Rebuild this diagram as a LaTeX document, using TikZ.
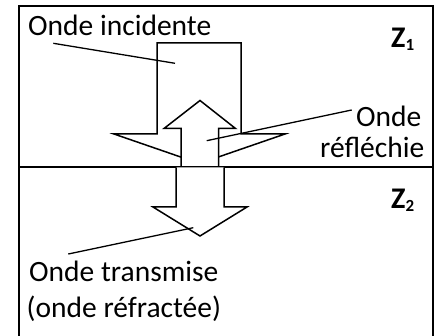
\documentclass[tikz,border=0pt]{standalone}
\usepackage{fontspec}
\setmainfont{Carlito}
\begin{document}
\begin{tikzpicture}[x=1pt,y=-1pt,
  lbl/.style={inner sep=0pt,anchor=base west,font=\fontsize{29.5}{34}\selectfont},
  zlbl/.style={inner sep=0pt,anchor=base west,font=\fontsize{30}{34}\selectfont\bfseries},
  arrowshape/.style={draw=black,fill=white,line width=1.5pt,line join=miter},
  leader/.style={draw=black,line width=1.3pt},
  frame/.style={draw=black,line width=2pt}]
\useasboundingbox (0,0) rectangle (441,336);
% frame
\draw[frame] (18.5,340) -- (18.5,6) -- (433,6) -- (433,340);
% incident arrow
\draw[arrowshape] (157,43) -- (241,43) -- (241,134) -- (285,134) -- (199.5,163.5)
  -- (114,134) -- (157,134) -- cycle;
% reflected arrow
\draw[arrowshape] (181,167.5) -- (181,128.5) -- (164,128.5) -- (200,100.5)
  -- (235.5,128.5) -- (218.5,128.5) -- (218.5,167.5);
% interface
\draw[frame] (18.5,167.5) -- (433,167.5);
% transmitted arrow
\draw[arrowshape] (176,167.5) -- (176,207) -- (153,207) -- (200,236)
  -- (247,207) -- (224,207) -- (224,167.5);
% labels
\node[lbl] (inc) at (28,36) {Onde incidente};
\node[lbl] (ref1) at (356,127) {Onde};
\node[lbl] (ref2) at (320,158) {réfléchie};
\node[lbl] (tr1) at (29,281) {Onde transmise};
\node[lbl] (tr2) at (26.5,317) {(onde réfractée)};
\node[zlbl] (z1) at (391,48) {Z\raisebox{-3pt}{\fontsize{17}{17}\selectfont 1}};
\node[zlbl] (z2) at (391,209) {Z\raisebox{-3pt}{\fontsize{17}{17}\selectfont 2}};
% leader lines
\coordinate (incA) at (53.3,43.3);
\coordinate (incB) at (175,63.3);
\coordinate (refA) at (351.7,110);
\coordinate (refB) at (206.7,140.7);
\coordinate (trA) at (68.3,254);
\coordinate (trB) at (193.3,227.7);
\draw[leader] (incA) -- (incB);
\draw[leader] (refA) -- (refB);
\draw[leader] (trA) -- (trB);
\end{tikzpicture}
\end{document}
